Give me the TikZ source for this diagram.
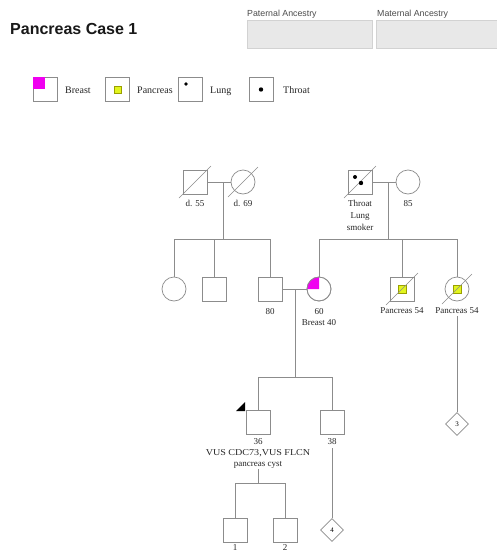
\documentclass[tikz,border=0pt]{standalone}
\usepackage{fontspec}
\setmainfont{Liberation Serif}
\setsansfont{Liberation Sans}
\usetikzlibrary{shapes.geometric}
\definecolor{linegray}{HTML}{8C8C8C}
\definecolor{boxfill}{HTML}{E8E8E8}
\definecolor{boxedge}{HTML}{D2D2D2}
\definecolor{breastpink}{HTML}{F000F0}
\definecolor{pancyellow}{HTML}{E2F51E}
\definecolor{pancedge}{HTML}{9AA000}
\begin{document}
\begin{tikzpicture}[x=1pt,y=-1pt,
  male/.style={draw=linegray, line width=0.7pt, rectangle, minimum size=24pt, inner sep=0pt},
  female/.style={draw=linegray, line width=0.7pt, circle, minimum size=24pt, inner sep=0pt},
  unknown/.style={draw=linegray, line width=0.7pt, diamond, minimum size=23pt, inner sep=0pt,
    font=\fontsize{7}{8}\selectfont},
  lbl/.style={font=\fontsize{9}{10}\selectfont, inner sep=0pt, anchor=base, text=black!85},
  legtext/.style={font=\fontsize{10}{11}\selectfont, inner sep=0pt, anchor=base west, text=black!85},
  legbox/.style={draw=linegray, line width=0.6pt, rectangle, minimum size=24pt, inner sep=0pt},
  conn/.style={draw=linegray, line width=0.7pt},
  slash/.style={draw=linegray, line width=0.6pt},
  pancmark/.style={fill=pancyellow, draw=pancedge, line width=0.4pt, minimum size=8pt, inner sep=0pt},
  hdrbox/.style={fill=boxfill, draw=boxedge, line width=0.6pt},
  hdrtext/.style={font=\sffamily\fontsize{8.8}{10}\selectfont, anchor=west, inner sep=0pt, text=black!70}
]
\useasboundingbox (0,0) rectangle (496,552);
\fill[white] (0,0) rectangle (496,552);

% ---- heading ----
\node[anchor=west, inner sep=0pt, font=\sffamily\bfseries\fontsize{16}{18}\selectfont, text=black!90]
  (title) at (10,29) {Pancreas Case 1};
\node[hdrtext] (patlbl) at (247,14) {Paternal Ancestry};
\node[hdrtext] (matlbl) at (377,14) {Maternal Ancestry};
\path[hdrbox] (247,20) rectangle (372,48);
\path[hdrbox] (376,20) rectangle (500,48);

% ---- legend ----
\node[legbox] (lgB) at (45,89.5) {};
\fill[breastpink] (lgB.north west) rectangle ++(12,12);
\node[legtext] (lgBt) at (65,93.5) {Breast};
\node[legbox] (lgP) at (117.5,89.5) {};
\node[pancmark, minimum size=7pt] at (lgP.center) {};
\node[legtext] (lgPt) at (137,93.5) {Pancreas};
\node[legbox] (lgL) at (190.5,89.5) {};
\fill[black] ([shift={(-4.5,-5.5)}]lgL.center) circle[radius=1.8];
\node[legtext] (lgLt) at (210,93.5) {Lung};
\node[legbox] (lgT) at (261,89.5) {};
\fill[black] (lgT.center) circle[radius=2.2];
\node[legtext] (lgTt) at (283,93.5) {Throat};

% ---- generation I ----
\node[male] (gfp) at (195,182) {};
\node[female] (gmp) at (243,182) {};
\node[male] (gfm) at (360,182) {};
\node[female] (gmm) at (408,182) {};
\draw[slash] ([shift={(-16,16)}]gfp.center) -- ([shift={(16,-16)}]gfp.center);
\draw[slash] ([shift={(-15,15)}]gmp.center) -- ([shift={(15,-15)}]gmp.center);
\draw[slash] ([shift={(-16,16)}]gfm.center) -- ([shift={(16,-16)}]gfm.center);
\fill[black] ([shift={(-5,-5)}]gfm.center) circle[radius=2];
\fill[black] ([shift={(1,1)}]gfm.center) circle[radius=2.2];
\node[lbl] at (195,206) {d. 55};
\node[lbl] at (243,206) {d. 69};
\node[lbl] at (360,206) {Throat};
\node[lbl] at (360,218) {Lung};
\node[lbl] at (360,230) {smoker};
\node[lbl] at (408,206) {85};

% ---- generation II ----
\node[female] (c1) at (174,289) {};
\node[male] (c2) at (214,289) {};
\node[male] (c3) at (270,289) {};
\node[female] (m2) at (319,289) {};
\node[male] (a1) at (402,289) {};
\node[female] (a2) at (457,289) {};
\fill[breastpink] (m2.center) -- ++(-12,0) arc[start angle=180, end angle=270, radius=12] -- cycle;
\node[female] at (m2.center) {};
\node[pancmark] at (a1.center) {};
\node[pancmark] at (a2.center) {};
\draw[slash] ([shift={(-16,16)}]a1.center) -- ([shift={(16,-16)}]a1.center);
\draw[slash] ([shift={(-15,15)}]a2.center) -- ([shift={(15,-15)}]a2.center);
\node[lbl] at (270,314) {80};
\node[lbl] at (319,314) {60};
\node[lbl] at (319,325) {Breast 40};
\node[lbl] at (402,313) {Pancreas 54};
\node[lbl] at (457,313) {Pancreas 54};

% ---- generation III ----
\node[male] (p1) at (258,422) {};
\node[male] (p2) at (332,422) {};
\fill[black] (236,411) -- (245,402) -- (245,411) -- cycle;
\node[lbl] at (258,444) {36};
\node[lbl] at (258,455) {\scalebox{1.12}[1]{VUS CDC73,VUS FLCN}};
\node[lbl] at (258,466) {pancreas cyst};
\node[lbl] at (332,444) {38};
\node[unknown] (d3) at (457,424) {3};

% ---- generation IV ----
\node[male] (k1) at (235,530) {};
\node[male] (k2) at (285,530) {};
\node[unknown] (d4) at (332,530) {4};
\node[lbl] at (235,550) {1};
\node[lbl] at (285,550) {2};

% ---- couple, descent and sibship lines ----
\draw[conn] (gfp.east) -- (gmp.west);
\coordinate (u1) at (223,182);
\coordinate (sib1) at (223,239);
\draw[conn] (u1) -- (sib1);
\draw[conn] (c1.north |- sib1) -- (c3.north |- sib1);
\foreach \n in {c1,c2,c3} \draw[conn] (\n.north) -- (\n.north |- sib1);

\draw[conn] (gfm.east) -- (gmm.west);
\coordinate (u2) at (388,182);
\coordinate (sib2) at (388,239);
\draw[conn] (u2) -- (sib2);
\draw[conn] (m2.north |- sib2) -- (a2.north |- sib2);
\foreach \n in {m2,a1,a2} \draw[conn] (\n.north) -- (\n.north |- sib2);

\draw[conn] (c3.east) -- (m2.west);
\coordinate (u3) at (295,289);
\coordinate (sib3) at (295,377);
\draw[conn] (u3) -- (sib3);
\draw[conn] (p1.north |- sib3) -- (p2.north |- sib3);
\foreach \n in {p1,p2} \draw[conn] (\n.north) -- (\n.north |- sib3);

\coordinate (a2tail) at (457,316);
\draw[conn] (a2tail) -- (d3.north);
\coordinate (p2tail) at (332,448);
\draw[conn] (p2tail) -- (d4.north);

\coordinate (u4) at (258,469);
\coordinate (sib4) at (258,483);
\draw[conn] (u4) -- (sib4);
\draw[conn] (k1.north |- sib4) -- (k2.north |- sib4);
\foreach \n in {k1,k2} \draw[conn] (\n.north) -- (\n.north |- sib4);
\end{tikzpicture}
\end{document}
